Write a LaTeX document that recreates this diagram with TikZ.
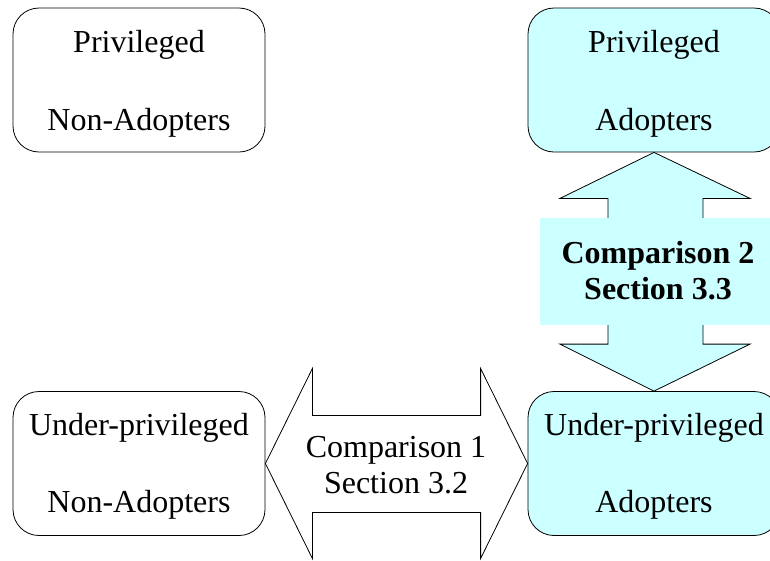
\documentclass[tikz,border=0pt]{standalone}
\usepackage{fontspec}
\setmainfont{Liberation Serif}
\usetikzlibrary{calc}
\definecolor{lcyan}{HTML}{CCFFFF}
\begin{document}
\begin{tikzpicture}[x=1pt,y=-1pt,
  box/.style={draw=black, line width=0.8pt, rounded corners=26pt,
    minimum width=252pt, minimum height=144pt, inner sep=0pt},
  txt/.style={anchor=base, inner sep=0pt, font=\fontsize{32}{36}\selectfont},
  btxt/.style={txt, font=\fontsize{32}{36}\selectfont\bfseries},
  barrow/.style={draw=black, line width=0.8pt, line join=miter}]
\useasboundingbox (0,0) rectangle (770,560);
% boxes
\node[box, fill=white] (PN) at (139,80) {};
\node[box, fill=lcyan] (PA) at (654,80) {};
\node[box, fill=white] (UN) at (139,463.5) {};
\node[box, fill=lcyan] (UA) at (654,463.5) {};
% horizontal block arrow (Comparison 1)
\draw[barrow, fill=white] (UN.east) -- ($(UN.east)+(47,-95)$) -- ($(UN.east)+(47,-48)$)
  -- ($(UA.west)+(-47,-48)$) -- ($(UA.west)+(-47,-95)$) -- (UA.west)
  -- ($(UA.west)+(-47,95)$) -- ($(UA.west)+(-47,49)$) -- ($(UN.east)+(47,49)$)
  -- ($(UN.east)+(47,95)$) -- cycle;
% vertical block arrow (Comparison 2)
\draw[barrow, fill=lcyan] (PA.south) -- ($(PA.south)+(96,46)$) -- ($(PA.south)+(49,46)$)
  -- ($(UA.north)+(49,-47)$) -- ($(UA.north)+(96,-47)$) -- (UA.north)
  -- ($(UA.north)+(-94,-47)$) -- ($(UA.north)+(-46,-47)$) -- ($(PA.south)+(-46,46)$)
  -- ($(PA.south)+(-94,46)$) -- cycle;
\node[fill=lcyan, minimum width=236pt, minimum height=107pt, inner sep=0pt] (C2box) at (658,271.5) {};
% texts
\node[txt] (PN1) at (139,52) {Privileged};
\node[txt] (PN2) at (139,130) {Non-Adopters};
\node[txt] (PA1) at (654,52) {Privileged};
\node[txt] (PA2) at (654,130) {Adopters};
\node[txt] (UN1) at (139,435) {Under-privileged};
\node[txt] (UN2) at (139,512) {Non-Adopters};
\node[txt] (UA1) at (654,435) {Under-privileged};
\node[txt] (UA2) at (654,512) {Adopters};
\node[txt] (C1a) at (396,457) {Comparison 1};
\node[txt] (C1b) at (396,493) {Section 3.2};
\node[btxt] (C2a) at (658,263) {Comparison 2};
\node[btxt] (C2b) at (658,299) {Section 3.3};
\end{tikzpicture}
\end{document}
